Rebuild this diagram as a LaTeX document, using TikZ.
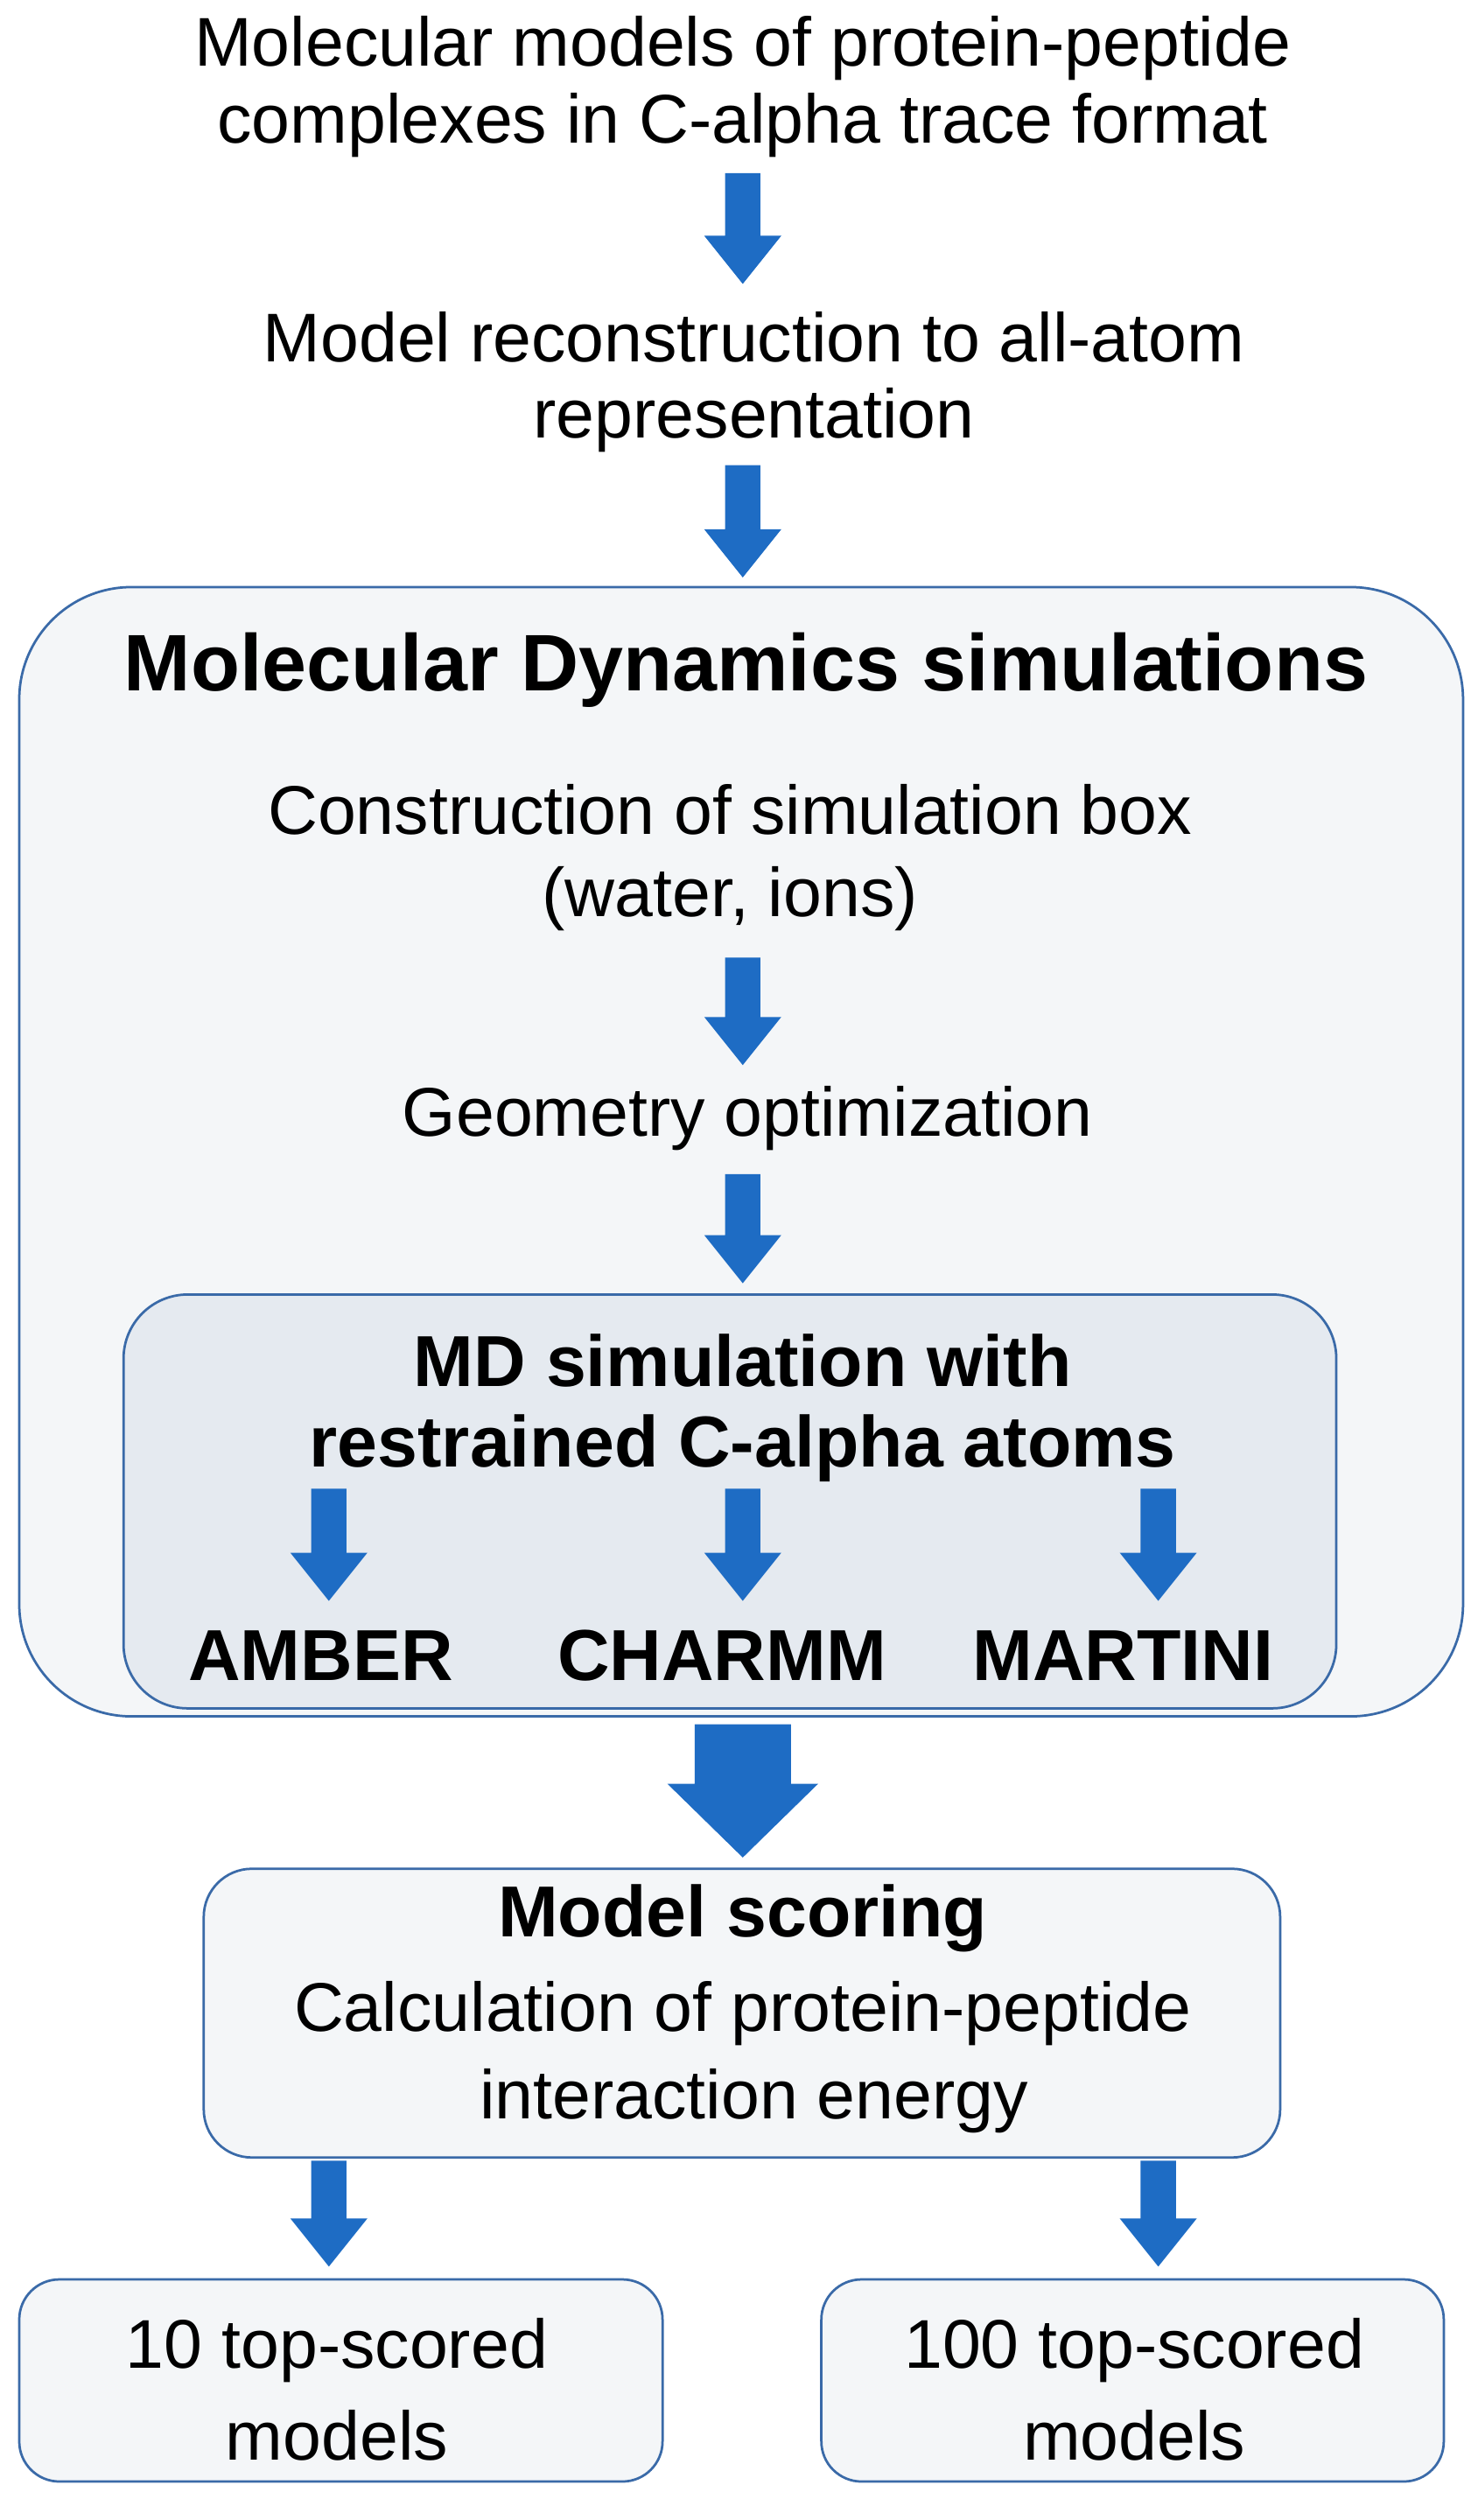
\documentclass[tikz,border=0pt]{standalone}
\usepackage{fontspec}
\setmainfont{Liberation Sans}
\definecolor{ablue}{HTML}{1E6CC4}
\definecolor{bline}{HTML}{3A6AA8}
\definecolor{bfill}{HTML}{F4F6F8}
\definecolor{ifill}{HTML}{E5EAF0}
\newcommand{\blkarrow}[5]{% x, ytop, ybot, shaft half, head half
  \fill[ablue] (#1-#4,#2) -- (#1+#4,#2) -- (#1+#4,#3-30) -- (#1+#5,#3-30) -- (#1,#3) -- (#1-#5,#3-30) -- (#1-#4,#3-30) -- cycle;}
\begin{document}
\begin{tikzpicture}[x=1pt,y=-1pt,
  txt/.style={font=\fontsize{43}{50}\selectfont, text=black, inner sep=0pt},
  btxt/.style={font=\fontsize{45}{52}\selectfont\bfseries, text=black, inner sep=0pt},
  box/.style={draw=bline, line width=1.5pt, fill=bfill}]
\useasboundingbox (0,0) rectangle (921,1571);
\node[txt] (t1) at (463,30) {Molecular models of protein-peptide};
\node[txt] (t2) at (463,78) {complexes in C-alpha trace format};
\blkarrow{463}{108}{177}{11}{24}
\node[txt] (t3) at (470,210) {Model reconstruction to all-atom};
\node[txt] (t4) at (470,262) {representation};
\blkarrow{463}{290}{360}{11}{24}
\path[box,rounded corners=70pt] (12,366) rectangle (912,1070);
\node[btxt,font=\fontsize{50}{56}\selectfont\bfseries] (md) at (465,418) {Molecular Dynamics simulations};
\node[txt] (c1) at (455,505) {Construction of simulation box};
\node[txt] (c2) at (455,560) {(water, ions)};
\blkarrow{463}{597}{664}{11}{24}
\node[txt] (g) at (466,697) {Geometry optimization};
\blkarrow{463}{732}{800}{11}{24}
\path[draw=bline,line width=1.5pt,fill=ifill,rounded corners=40pt] (77,807) rectangle (833,1065);
\node[btxt] (m1) at (463,848) {MD simulation with};
\node[btxt] (m2) at (463,903) {restrained C-alpha atoms};
\blkarrow{205}{928}{998}{11}{24}
\blkarrow{463}{928}{998}{11}{24}
\blkarrow{722}{928}{998}{11}{24}
\node[btxt] (a) at (200,1032) {AMBER};
\node[btxt] (c) at (450,1032) {CHARMM};
\node[btxt] (mt) at (700,1032) {MARTINI};
\fill[ablue] (433,1075) -- (493,1075) -- (493,1112) -- (510,1112) -- (463,1158) -- (416,1112) -- (433,1112) -- cycle;
\path[box,rounded corners=30pt] (127,1165) rectangle (798,1345);
\node[btxt] (ms) at (463,1196) {Model scoring};
\node[txt] (s1) at (463,1255) {Calculation of protein-peptide};
\node[txt] (s2) at (470,1310) {interaction energy};
\blkarrow{205}{1347}{1413}{11}{24}
\blkarrow{722}{1347}{1413}{11}{24}
\path[box,rounded corners=25pt] (12,1421) rectangle (413,1547);
\path[box,rounded corners=25pt] (512,1421) rectangle (900,1547);
\node[txt] (b1) at (210,1465) {10 top-scored};
\node[txt] (b2) at (210,1518) {models};
\node[txt] (b3) at (707,1465) {100 top-scored};
\node[txt] (b4) at (707,1518) {models};
\end{tikzpicture}
\end{document}
